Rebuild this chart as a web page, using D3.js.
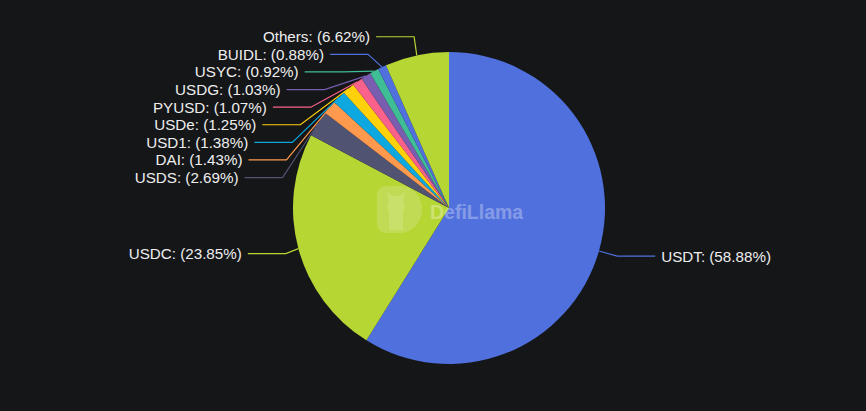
<!DOCTYPE html>
<html>
<head>
<meta charset="utf-8">
<script src="https://cdn.jsdelivr.net/npm/d3@7"></script>
<style>
  html, body { margin: 0; padding: 0; background: #151618; }
  svg { display: block; }
</style>
</head>
<body>
<svg id="chart" width="866" height="411"></svg>
<script>
const categories = ["USDT", "USDC", "USDS", "DAI", "USD1", "USDe", "PYUSD", "USDG", "USYC", "BUIDL", "Others"];
const values = [58.88, 23.85, 2.69, 1.43, 1.38, 1.25, 1.07, 1.03, 0.92, 0.88, 6.62];
const colors = ["#5070dd", "#b6d634", "#505372", "#ff994d", "#0ca8df", "#ffd10a", "#fb628b", "#785db0", "#3fbe95", "#5070dd", "#b6d634"];

const W = 866, H = 411;
const cx = 449, cy = 208, r = 156;
const R1 = 175;      // natural label radius
const rA = 169;      // horizontal radius used when labels are re-aligned
const len2 = 38, gap = 6, lineH = 17.6;

const svg = d3.select("#chart");
svg.append("rect").attr("width", W).attr("height", H).attr("fill", "#151618");

const data = categories.map((c, i) => ({ name: c, value: values[i], color: colors[i] }));
const pie = d3.pie().sort(null).value(d => d.value);
const arcs = pie(data);
const arc = d3.arc().innerRadius(0).outerRadius(r);

const g = svg.append("g").attr("transform", `translate(${cx},${cy})`);
g.selectAll("path.slice").data(arcs).enter().append("path")
  .attr("class", "slice")
  .attr("d", arc)
  .attr("fill", d => d.data.color);

// watermark
const wm = svg.append("g");
wm.append("path")
  .attr("d", "M377,195 a9,9 0 0 1 9,-9 h14 a22,23.5 0 0 1 0,47 h-14 a9,9 0 0 1 -9,-9 z")
  .attr("fill", "#ffffff").attr("opacity", 0.16);
// simple llama head
wm.append("path")
  .attr("d", "M389,200 l-3,-9 l6,5 h8 l6,-5 l-3,9 q3,6 0,12 v18 h-14 v-18 q-3,-6 0,-12 z")
  .attr("fill", "#ffffff").attr("opacity", 0.13);
wm.append("text").attr("x", 430).attr("y", 212)
  .attr("dominant-baseline", "central")
  .attr("font-family", "'Liberation Sans', Arial, sans-serif")
  .attr("font-weight", "bold").attr("font-size", 19.5)
  .attr("fill", "#ffffff").attr("opacity", 0.3).text("DefiLlama");

// label layout (echarts-like)
const items = arcs.map(d => {
  const mid = (d.startAngle + d.endAngle) / 2;
  const dir = Math.sin(mid) >= 0 ? 1 : -1;
  return {
    d, mid, dir,
    p0: [cx + r * Math.sin(mid), cy - r * Math.cos(mid)],
    x: cx + R1 * Math.sin(mid),
    y: cy - R1 * Math.cos(mid),
    nx: cx + R1 * Math.sin(mid)
  };
});

[1, -1].forEach(dir => {
  const list = items.filter(it => it.dir === dir).sort((a, b) => a.y - b.y);
  let last = -Infinity, adjusted = false;
  list.forEach(it => {
    const top = it.y - lineH / 2;
    if (top < last) { it.y += last - top; adjusted = true; }
    last = it.y + lineH / 2;
  });
  if (adjusted) {
    const semis = [list.filter(it => it.y <= cy), list.filter(it => it.y > cy)];
    semis.forEach(semi => {
      if (!semi.length) return;
      let far = semi[0];
      semi.forEach(it => { if (Math.abs(it.y - cy) > Math.abs(far.y - cy)) far = it; });
      const fdy = Math.abs(far.y - cy);
      const fdx = Math.abs(far.nx - cx);
      const rB = fdx < R1 ? fdy / Math.sqrt(1 - (fdx * fdx) / (R1 * R1)) : R1;
      semi.forEach(it => {
        const dy = Math.abs(it.y - cy);
        it.x = cx + dir * rA * Math.sqrt(Math.max(0, 1 - (dy * dy) / (rB * rB)));
      });
    });
  }
});

const lg = svg.append("g");
items.forEach(it => {
  const p1 = [it.x, it.y];
  const p2 = [it.x + it.dir * len2, it.y];
  lg.append("polyline")
    .attr("points", [it.p0, p1, p2].map(p => p.join(",")).join(" "))
    .attr("fill", "none")
    .attr("stroke", it.d.data.color)
    .attr("stroke-width", 1.2);
  lg.append("text")
    .attr("x", p2[0] + it.dir * gap)
    .attr("y", it.y)
    .attr("text-anchor", it.dir > 0 ? "start" : "end")
    .attr("dominant-baseline", "central")
    .attr("font-family", "'Liberation Sans', Arial, sans-serif")
    .attr("font-size", 15.2)
    .attr("fill", "#eeeeee")
    .text(`${it.d.data.name}: (${it.d.data.value.toFixed(2)}%)`);
});
</script>
</body>
</html>
